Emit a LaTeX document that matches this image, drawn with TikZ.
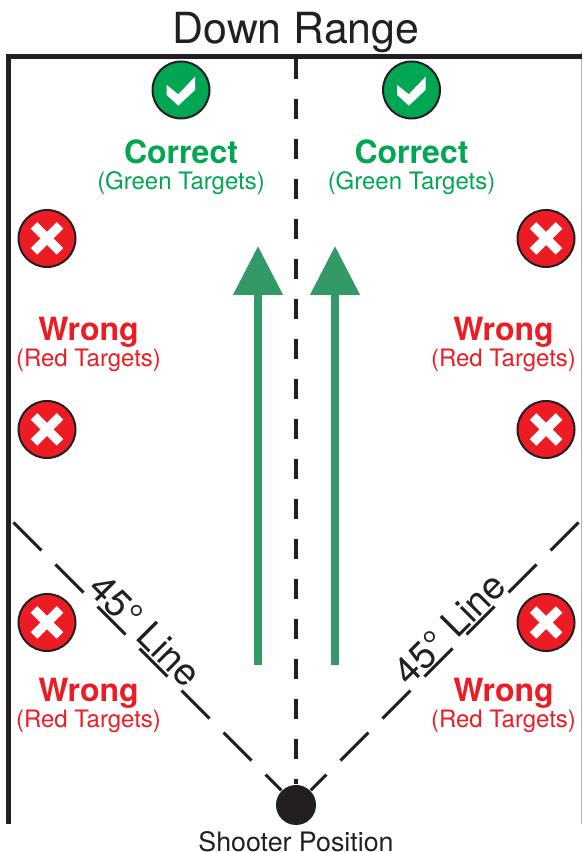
\documentclass[tikz,border=0pt]{standalone}
\usepackage{fontspec}
\setmainfont{TeX Gyre Heros}
\usetikzlibrary{arrows.meta}
\definecolor{inkblack}{HTML}{231F20}
\definecolor{targetgreen}{HTML}{00A651}
\definecolor{targetred}{HTML}{ED1C24}
\definecolor{arrowgreen}{HTML}{339966}
\tikzset{
    bigtext/.style={text=inkblack, inner sep=0pt, font=\fontsize{12.2}{14}\selectfont},
    angletext/.style={text=inkblack, inner sep=0pt, font=\fontsize{10.8}{13}\selectfont},
    headtext/.style={inner sep=0pt, font=\fontsize{9.1}{11}\selectfont\bfseries},
    subtext/.style={inner sep=0pt, font=\fontsize{6.82}{9}\selectfont},
    target/.style={circle, draw=inkblack, line width=0.2mm, minimum size=5.7mm, inner sep=0pt},
    frameline/.style={draw=inkblack, line width=0.5mm},
    dashline/.style={draw=inkblack, line width=0.3mm},
    rangearrow/.style={draw=arrowgreen, line width=0.8mm, -{Triangle[length=4.9mm, width=4.8mm]}}
}
\begin{document}
\begin{tikzpicture}[x=1cm, y=1cm]
    \useasboundingbox (0,0) rectangle (5.82,8.52);
    % Frame
    \draw[gray!60, line width=0.1mm] (5.815,8.0) -- (5.815,0.28);
    \draw[frameline] (0.085,0.28) -- (0.085,7.955) -- (5.82,7.955);
    \node[bigtext] (title) at (2.96,8.19) {Down Range};

    % Shooter
    \node[circle, fill=inkblack, minimum size=4mm, inner sep=0pt] (shooter) at (2.96,0.47) {};
    \node[inner sep=0pt, text=inkblack, font=\fontsize{7.62}{9}\selectfont] (shooterlabel) at (2.96,0.105) {Shooter Position};

    % Dashed lines
    \coordinate (topmid) at (2.96,7.93);
    \coordinate (leftend) at (0.135,3.295);
    \coordinate (rightend) at (5.785,3.295);
    \draw[dashline, line width=0.37mm, dash pattern=on 2mm off 2mm] (topmid) -- (shooter);
    \draw[dashline, dash pattern=on 3.96mm off 1.98mm] (leftend) -- (shooter);
    \draw[dashline, dash pattern=on 3.96mm off 1.98mm] (rightend) -- (shooter);
    \node[angletext, rotate=-45] (leftangle) at (1.455,2.22) {45° Line};
    \node[angletext, rotate=45] (rightangle) at (4.49,2.235) {45° Line};

    % Arrows
    \coordinate (arrowa) at (2.58,1.87);
    \coordinate (arrowb) at (3.35,1.87);
    \coordinate (tipa) at (2.58,6.06);
    \coordinate (tipb) at (3.35,6.06);
    \draw[rangearrow] (arrowa) -- (tipa);
    \draw[rangearrow] (arrowb) -- (tipb);

    % Green targets
    \foreach \n/\x in {a/1.81, b/4.115} {
        \node[target, fill=targetgreen] (green\n) at (\x,7.62) {};
        \fill[white] (green\n.center) ++(-0.143,0.05) -- ++(0.116,-0.093) -- ++(0.167,0.176)
            -- ++(0,-0.133) -- ++(-0.167,-0.157) -- ++(-0.116,0.107) -- cycle;
        \node[headtext, text=targetgreen] (correct\n) at (\x,7.0) {Correct};
        \node[subtext, text=targetgreen] (sub\n) at (\x,6.69) {(Green Targets)};
    }

    % Red targets
    \foreach \n/\x/\y in {a/0.47/6.135, b/0.47/4.225, c/0.47/2.295, d/5.46/6.135, e/5.46/4.225, f/5.46/2.295} {
        \node[target, fill=targetred] (red\n) at (\x,\y) {};
        \draw[white, line width=0.92mm] (red\n.center) ++(-0.13,-0.13) -- ++(0.26,0.26);
        \draw[white, line width=0.92mm] (red\n.center) ++(-0.13,0.13) -- ++(0.26,-0.26);
    }
    \foreach \n/\x/\y in {a/0.885/5.2, b/5.035/5.2, c/0.885/1.59, d/5.035/1.59} {
        \node[headtext, text=targetred] (wrong\n) at (\x,\y) {Wrong};
        \node[subtext, text=targetred] (redsub\n) at (\x,\y-0.28) {(Red Targets)};
    }
\end{tikzpicture}
\end{document}
